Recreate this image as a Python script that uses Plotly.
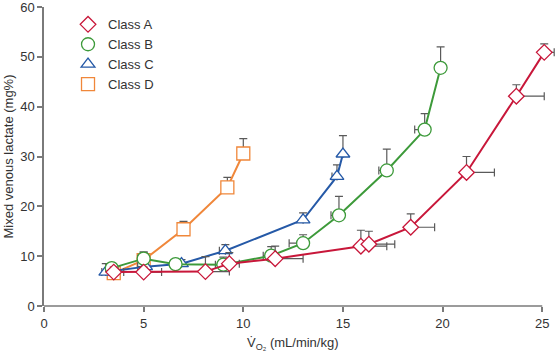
import plotly.graph_objects as go

# Class A
a_x = [3.5, 5.0, 8.1, 9.3, 11.6, 15.9, 16.3, 18.4, 21.2, 23.7, 25.1]
a_y = [6.8, 6.8, 6.9, 8.5, 9.5, 12.0, 12.4, 15.8, 26.8, 42.1, 50.9]
a_yerr = [1.0, 1.0, 3.0, 2.2, 2.5, 3.2, 2.6, 2.7, 3.2, 2.3, 1.7]
a_xerr = [0.5, 0.9, 1.2, 0.5, 1.4, 1.3, 1.3, 1.2, 1.4, 1.4, 0.5]

# Class B
b_x = [3.4, 5.0, 6.6, 9.0, 11.4, 13.0, 14.8, 17.2, 19.1, 19.9]
b_y = [7.6, 9.5, 8.4, 8.3, 10.1, 12.6, 18.2, 27.2, 35.4, 47.8]
b_yerr = [1.0, 1.3, 0.3, 1.5, 1.8, 1.7, 3.8, 4.3, 3.2, 4.2]
b_xerr = [0.3, 0.3, 0.0, 0.4, 0.4, 0.7, 0.4, 0.4, 0.5, 0.0]

# Class C
c_x = [3.1, 5.1, 6.9, 9.1, 13.0, 14.7, 15.0]
c_y = [6.8, 7.9, 8.5, 11.1, 17.3, 26.0, 30.5]
c_yerr = [1.7, 1.5, 0.8, 1.2, 1.4, 2.3, 3.7]
c_xerr = [0.2, 0.4, 0.0, 0.3, 0.0, 0.25, 0.0]

# Class D
d_x = [3.5, 5.0, 7.0, 9.2, 10.0]
d_y = [6.6, 9.2, 15.4, 23.8, 30.6]
d_yerr = [1.5, 1.6, 1.6, 2.0, 3.0]

x_ticks = [0, 5, 10, 15, 20, 25]
y_ticks = [0, 10, 20, 30, 40, 50, 60]

names = ["Class A", "Class B", "Class C", "Class D"]
colors = ["#c8173a", "#3d9a3a", "#2559a7", "#f0873a"]
symbols = ["diamond", "circle", "triangle-up", "square"]
sizes = [12, 13, 12, 13]

ERR = "#5a5a5a"
AX = "#7a7a7a"
TXT = "#333333"
FONT = "Liberation Sans, Arial, sans-serif"

fig = go.Figure()

# legend-only entries (marker only)
for n, c, s, sz in zip(names, colors, symbols, sizes):
    fig.add_trace(go.Scatter(
        x=[None], y=[None], mode="markers", name=n,
        marker=dict(symbol=s, size=sz, color="white", line=dict(color=c, width=1.3)),
        showlegend=True))

series = [
    (d_x, d_y, d_yerr, None, None, 3),
    (c_x, c_y, c_yerr, c_xerr, "minus", 2),
    (b_x, b_y, b_yerr, b_xerr, "minus", 1),
    (a_x, a_y, a_yerr, a_xerr, "plus", 0),
]
for xs, ys, ye, xe, xdir, i in series:
    ex = None
    if xe is not None:
        if xdir == "plus":
            ex = dict(type="data", array=xe, arrayminus=[0] * len(xe), symmetric=False,
                      color=ERR, thickness=1.2, width=4)
        else:
            ex = dict(type="data", array=[0] * len(xe), arrayminus=xe, symmetric=False,
                      color=ERR, thickness=1.2, width=4)
    fig.add_trace(go.Scatter(
        x=xs, y=ys, mode="lines+markers", showlegend=False, cliponaxis=False,
        line=dict(color=colors[i], width=2),
        marker=dict(symbol=symbols[i], size=sizes[i], color="white",
                    line=dict(color=colors[i], width=1.3)),
        error_y=dict(type="data", array=ye, arrayminus=[0] * len(ye), symmetric=False,
                     color=ERR, thickness=1.2, width=4),
        error_x=ex,
    ))

tickfont = dict(family=FONT, size=13, color=TXT)

fig.update_layout(
    width=555, height=355,
    margin=dict(l=44, r=0, t=5, b=49),
    paper_bgcolor="white", plot_bgcolor="white",
    font=dict(family=FONT, size=13, color=TXT),
    xaxis=dict(range=[0, 25.64], tickvals=x_ticks,
               showgrid=False, zeroline=False, showline=False,
               ticks="outside", tickcolor=AX, ticklen=5, tickwidth=1.5, tickfont=tickfont),
    yaxis=dict(range=[0, 60], tickvals=y_ticks,
               showgrid=False, zeroline=False, showline=True, linecolor=AX, linewidth=1.5,
               ticks="outside", tickcolor=AX, ticklen=5, tickwidth=1.5, tickfont=tickfont,
               ticklabeloverflow="allow",
               title=dict(text="Mixed venous lactate (mg%)", standoff=4,
                          font=dict(size=13, color=TXT))),
    legend=dict(x=0.047, y=0.992, xanchor="left", yanchor="top",
                bgcolor="rgba(0,0,0,0)", font=dict(size=13, color=TXT),
                tracegroupgap=0, itemwidth=30),
)

# x axis title centred under the 0..25 axis
fig.add_annotation(text="V̇<sub>O₂</sub> (mL/min/kg)", xref="x", yref="paper",
                   x=(x_ticks[0] + x_ticks[-1]) / 2, y=0, yshift=-37,
                   xanchor="center", yanchor="middle", showarrow=False,
                   font=dict(family=FONT, size=13, color=TXT))

# x axis line spanning 0..25 only
fig.add_shape(type="line", xref="x", yref="paper", x0=x_ticks[0], x1=x_ticks[-1], y0=0, y1=0,
              line=dict(color=AX, width=1.5), layer="below")

fig.write_html("out.html", config={"displayModeBar": False},
               post_script="document.body.style.margin='0';")
